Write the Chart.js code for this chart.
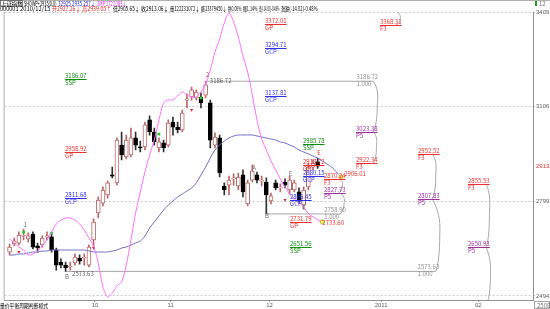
<!doctype html>
<html lang="zh">
<head>
<meta charset="utf-8">
<title>上证指数</title>
<script src="https://cdn.jsdelivr.net/npm/chart.js"></script>
<style>
html,body{margin:0;padding:0;background:#fff;}
canvas{display:block;}
</style>
</head>
<body>
<canvas id="chart-0" width="550" height="309"></canvas>
<script>
// K线 (2010-09 ~ 2010-12-15)
const candleOpen  = [2636,2662,2665,2688,2678,2694,2656,2659,2685,2685,2643,2604,2594,2588,2601,2617,2617,2594,2675,2762,2794,2820,2885,2859,2981,2943,2949,3004,2975,2975,3062,3023,2972,2988,2981,3055,3039,3030,3126,3136,3133,3136,3142,3117,2981,3004,2849,2852,2872,2849,2885,2791,2868,2885,2865,2862,2801,2859,2843,2862,2836,2836,2830,2788,2846,2910,2927.26];
const candleHigh  = [2662,2681,2701,2710,2698,2701,2665,2688,2701,2698,2649,2614,2604,2604,2630,2627,2630,2659,2743,2814,2846,2865,2910,3004,3023,3013,3036,3023,2994,3055,3075,3036,3004,2997,3062,3071,3055,3094,3146,3168,3159,3149,3186.72,3126,3020,3013,2859,2881,2888,2891,2901,2868,2917,2894,2881,2875,2826,2868,2856,2872,2881,2868,2843,2846,2923,2933,2939.05];
const candleLow   = [2627,2656,2659,2675,2668,2646,2636,2652,2675,2636,2578,2585,2573.63,2578,2594,2597,2594,2588,2652,2746,2785,2810,2875,2852,2933,2936,2943,2965,2959,2965,3013,2981,2959,2959,2975,3013,3020,3023,3101,3126,3126,3101,3133,2972,2972,2878,2820,2820,2852,2836,2814,2785,2862,2859,2849,2758.90,2791,2836,2830,2843,2823,2830,2794,2775,2836,2901,2905.65];
const candleClose = [2652,2672,2691,2691,2688,2652,2649,2681,2688,2643,2594,2594,2585,2591,2620,2607,2620,2652,2733,2804,2836,2859,2881,2997,2949,2997,3004,2981,2972,3046,3023,2991,2991,2972,3052,3039,3030,3084,3130,3159,3152,3117,3175,2997,3007,2891,2836,2868,2875,2878,2830,2859,2897,2868,2868,2820,2817,2843,2846,2852,2868,2859,2804,2836,2910,2923,2913.06];

// 均线
const maPink = [2678.1,2665.2,2652.3,2642.6,2626.5,2629.7,2639.4,2655.5,2674.9,2700.7,2726.5,2739.4,2745.9,2745.9,2739.4,2726.5,2707.2,2681.4,2655.5,2600.7,2523.4,2491.0,2503.9,2526.6,2539.5,2594.2,2674.9,2761.9,2829.7,2894.2,2949.0,2997.3,3061.8,3116.6,3126.2,3126.2,3139.1,3152.0,3142.4,3135.9,3135.9,3152.0,3177.8,3222.9,3280.9,3322.9,3374.4,3406.7,3377.7,3329.3,3268.1,3216.5,3142.4,3061.8,3000.5,2965.1,2929.6,2900.6,2871.6,2845.8,2823.2,2807.1,2794.2,2781.3,2760,2750,2740,2733.6];
const maBlue = [2626.5,2626.5,2629.7,2629.7,2633.0,2636.2,2636.2,2639.4,2639.4,2642.6,2642.6,2642.6,2642.6,2642.6,2642.6,2642.6,2642.6,2639.4,2636.2,2636.2,2636.2,2636.2,2639.4,2642.6,2649.1,2652.3,2658.8,2665.2,2671.7,2687.8,2713.6,2732.9,2752.3,2771.6,2787.7,2800.6,2813.5,2823.2,2832.9,2842.6,2858.7,2884.5,2910.3,2939.3,2965.1,2981.2,2994.1,3003.8,3010.2,3013.4,3013.4,3013.4,3013.4,3010.2,3007.0,3003.8,3000.5,2997.3,2990.9,2987.7,2981.2,2974.8,2965.1,2958.6,2952.2,2945.7,2939.3,2929.6,2919.9,2910.3,2894.2,2878.0];

// 坐标
const yTicks = [3409.9, 3106.7, 2913.1, 2799.5, 2494.4];
const lastPriceTick = 2913.1;
const monthTicks = [18.3, 34.5, 55.7, 79.6, 100.4];
const monthLabels = ['10','11','12','2011','02'];

// 高低点水平线 [起点, 终点, 价位]
const levelFrom  = [42, 12, 55];
const levelTo    = [77.9, 91.3, 71.1];
const levelPrice = [3186.72, 2573.63, 2758.90];

// 信号点
const greenDotX = [3, 9, 32, 41];
const greenDotY = [2700.7, 2697.5, 3016.6, 3132.7];
const redMarkX  = [2, 18, 39, 59];
const redMarkY  = [2636.2, 2649.1, 3094.0, 2803.9];

// 标注: [x, 价位, 文字, 代码, 颜色]
const tagList = [
  [54.7, 3372.01, '3372.01', 'GP',  '#f03030'],
  [54.7, 3294.71, '3294.71', 'GCP', '#3030f0'],
  [54.7, 3137.81, '3137.81', 'GCP', '#3030f0'],
  [11.9, 3193.0,  '3186.07', 'SSP', '#109010'],
  [11.9, 2958.92, '2958.92', 'GP',  '#f03030'],
  [11.9, 2811.68, '2811.68', 'GCP', '#3030f0'],
  [62.8, 2985.78, '2985.78', 'SSP', '#109010'],
  [62.8, 2916.0,  '2918.72', 'GP',  '#f03030'],
  [62.8, 2880.15, '2880.15', 'GCP', '#3030f0'],
  [60.0, 2804.0,  '2806.45', 'GCP', '#3030f0'],
  [60.0, 2731.79, '2731.79', 'GP',  '#f03030'],
  [60.0, 2651.56, '2651.56', 'SSP', '#109010'],
  [67.4, 2870.24, '2870.24', 'F3',  '#f03030'],
  [67.4, 2827.73, '2827.73', 'P5',  '#a030a0'],
  [74.3, 3023.38, '3023.38', 'P5',  '#a030a0'],
  [74.3, 2922.34, '2922.34', 'F3',  '#f03030'],
  [79.4, 3368.31, '3368.31', 'F3',  '#f03030'],
  [87.4, 2952.52, '2952.52', 'F3',  '#f03030'],
  [87.4, 2807.83, '2807.83', 'P5',  '#a030a0'],
  [98.3, 2855.53, '2855.53', 'F3',  '#f03030'],
  [98.3, 2650.93, '2650.93', 'P5',  '#a030a0']
];
// 普通文字: [x, 价位, 文字, 颜色]
const noteList = [
  [42.9, 3180.0, '3186.72', '#606060'],
  [74.3, 3194.0, '3186.72', '#909090'],
  [74.3, 3172.0, '1.000',   '#909090'],
  [13.4, 2560.0, '2573.63', '#606060'],
  [87.4, 2580.0, '2573.63', '#909090'],
  [87.4, 2558.0, '1.000',   '#909090'],
  [67.4, 2766.0, '2758.90', '#909090'],
  [67.4, 2744.0, '1.000',   '#909090'],
  [71.7, 2882.0, '2906.01', '#f03030'],
  [67.0, 2724.0, '2733.60', '#f03030'],
  [3, 2716, '1', '#707070'], [52, 2900, 'A', '#707070'], [11.9, 2548, 'B', '#707070'],
  [54.7, 2745, 'B', '#707070'], [62.7, 2772, 'C', '#309030'], [59.8, 2880, 'E', '#707070'],
  [42, 3200, '2', '#c05050'], [65.9, 2950, 'E', '#f03030']
];
// 括号连线: [x, 价位1, 价位2, 终点x偏移, 外凸]
const braceList = [
  [82.8, 3368.31, 3409.9, 0.4, 3],
  [77.9, 3186.72, 3023.38, 0, 5],
  [77.9, 3023.38, 2922.34, 0, 4],
  [70.6, 2870.24, 2827.73, 0, 4],
  [70.6, 2827.73, 2758.90, 0.2, 5],
  [90.6, 2952.52, 2807.83, 0, 4],
  [90.6, 2807.83, 2573.63, 0.7, 5],
  [102.1, 2855.53, 2650.93, 0, 4],
  [102.1, 2650.93, 2481.5, 0.4, 3]
];

const upColor = '#b86868';
const fontSmall = '6px "Liberation Sans Narrow", "Noto Sans CJK SC", sans-serif';

const wickData = candleOpen.map((o,i)=>({x:i, y:[candleLow[i], candleHigh[i]]}));
const bodyData = candleOpen.map((o,i)=>({x:i, y:[o, candleClose[i]]}));
const isUp = i => candleClose[i] >= candleOpen[i];

// 在给定宽度内写字, 超宽时横向压缩
function fitText(ctx, t, x0, yb, maxW){
  const w = ctx.measureText(t).width;
  const sx = maxW && w > maxW ? maxW / w : 1;
  ctx.save(); ctx.translate(x0, yb); ctx.scale(sx, 1); ctx.fillText(t, 0, 0); ctx.restore();
}

const overlay = {
  id: 'overlay',
  afterDatasetsDraw(chart){
    const {ctx, chartArea, scales:{x, y}} = chart;
    ctx.save();
    ctx.font = fontSmall;
    // 括号
    ctx.strokeStyle = '#a8a8a8'; ctx.lineWidth = 1;
    braceList.forEach(([bx, p1, p2, dx, bulge])=>{
      const x1 = x.getPixelForValue(bx), x2 = x.getPixelForValue(bx+dx);
      const y1 = y.getPixelForValue(p1), y2 = Math.min(y.getPixelForValue(p2), chartArea.bottom);
      const h = y2 - y1;
      ctx.beginPath();
      ctx.moveTo(x1, y1);
      ctx.bezierCurveTo(x1+bulge, y1+h*0.15, x2+bulge, y1+h*0.25, x2+bulge*0.8, y1+h*0.5);
      ctx.bezierCurveTo(x2+bulge*0.8, y1+h*0.75, x2+bulge*0.5, y1+h*0.9, x2, y2);
      ctx.stroke();
    });
    // 标注
    ctx.textBaseline = 'alphabetic';
    tagList.forEach(([tx, p, t, code, col])=>{
      const px = Math.round(x.getPixelForValue(tx)), py = Math.round(y.getPixelForValue(p));
      ctx.fillStyle = col;
      ctx.fillText(t, px, py-1);
      const w = ctx.measureText(t).width;
      ctx.fillRect(px, py, w, 1);
      ctx.fillText(code, px, py+6);
    });
    noteList.forEach(([tx, p, t, col])=>{
      ctx.fillStyle = col;
      ctx.fillText(t, x.getPixelForValue(tx), y.getPixelForValue(p));
    });
    ctx.restore();
  },
  afterDraw(chart){
    const {ctx, chartArea} = chart;
    ctx.save();
    ctx.font = fontSmall;
    ctx.textBaseline = 'alphabetic';
    // 边框
    ctx.fillStyle = '#b0b0b0';
    ctx.fillRect(0, 0, 550, 1);
    ctx.fillRect(chartArea.left-1, chartArea.top, 1, chartArea.bottom-chartArea.top);
    // 标题行
    const line1 = [['上证指数',1,'#000'],['SHOWP+2935(0,0)',24,'#000'],['32925 2935 257↓',58,'#2020e0'],['3MP 2723 383↓',97,'#e020e0'],['',128,'#000']];
    const line2 = [['000001',0,'#000'],['2010/12/15',20,'#000'],['开2927.26↓',52,'#e02020'],['高2939.05↑',82,'#e02020'],['低2905.65↓',113,'#000'],['收2913.06↓',141,'#000'],['量122231072↓',170,'#000'],['额13379450↓',201,'#000'],['换0.00%',228,'#000'],['振1.14%',243,'#000'],['涨(-14.02)-0.48%',259,'#000'],['涨跌(-14.02)-0.48%',281,'#000'],['',319,'#000']];
    for (let k = 0; k < line1.length-1; k++){ const [t,x0,c] = line1[k]; ctx.fillStyle=c; fitText(ctx, t, x0, 5.5, line1[k+1][1]-x0-1.5); }
    ctx.strokeStyle = '#606060'; ctx.lineWidth = 0.8; ctx.strokeRect(0.5, 0.5, 22, 5.5);
    for (let k = 0; k < line2.length-1; k++){ const [t,x0,c] = line2[k]; ctx.fillStyle=c; fitText(ctx, t, x0, 10.5, line2[k+1][1]-x0-1.5); }
    // 底部
    ctx.fillStyle = '#000';
    fitText(ctx, '量价平衡周期判断模式', 0, 307.5, 48);
    ctx.fillStyle = '#707070';
    ctx.strokeStyle = '#909090';
    ctx.strokeRect(534.5, 301.5, 15, 7);
    ctx.fillText('2508', 537, 307.5);
    ctx.fillStyle = '#20a020';
    ctx.fillRect(535, 1, 2, 5);
    ctx.fillStyle = '#707070';
    ctx.fillText('12', 539, 6);
    ctx.restore();
  }
};

new Chart(document.getElementById('chart-0'), {
  data: {
    datasets: [
      { type:'line', label:'MA1', data: maPink.map((v,i)=>({x:i,y:v})), borderColor:'#ff70ff', borderWidth:1, order:0,
        pointRadius: ctx => ctx.dataIndex === maPink.length-1 ? 2 : 0, pointBackgroundColor:'#ffff40', pointBorderColor:'#909020', pointBorderWidth:0.6, tension:0.3 },
      { type:'line', label:'MA2', data: maBlue.map((v,i)=>({x:i,y:v})), borderColor:'#7070c8', borderWidth:1, order:0,
        pointRadius: ctx => ctx.dataIndex === maBlue.length-1 ? 2 : 0, pointBackgroundColor:'#ffff40', pointBorderColor:'#909020', pointBorderWidth:0.6, tension:0.3 },
      ...levelPrice.map((p,k)=>({ type:'line', label:'L'+k, data:[{x:levelFrom[k],y:p},{x:levelTo[k],y:p}], borderColor:'#a8a8a8', borderWidth:1, pointRadius:0, order:3 })),
      { type:'scatter', label:'G', data: greenDotX.map((v,i)=>({x:v,y:greenDotY[i]})), pointRadius:1.6, pointBackgroundColor:'#20d020', pointBorderWidth:0, order:0 },
      { type:'scatter', label:'R', data: redMarkX.map((v,i)=>({x:v,y:redMarkY[i]})), pointStyle:'triangle', rotation:180, pointRadius:1.8, pointBackgroundColor:'#e02020', pointBorderWidth:0, order:0 },
      { type:'bar', label:'body', data: bodyData, grouped:false, barThickness:4, borderSkipped:false, borderWidth:1, order:1,
        backgroundColor: c => isUp(c.dataIndex) ? '#ffffff' : '#000000',
        borderColor: c => isUp(c.dataIndex) ? upColor : '#000000' },
      { type:'bar', label:'wick', data: wickData, grouped:false, barThickness:1, borderWidth:0, order:2,
        backgroundColor: c => isUp(c.dataIndex) ? upColor : '#303030' }
    ]
  },
  options: {
    responsive:false, animation:false, devicePixelRatio:1,
    layout:{ padding:{ top:12, left:1, right:0, bottom:0 } },
    plugins:{ legend:{display:false}, tooltip:{enabled:false} },
    scales:{
      x:{ type:'linear', position:'bottom', min:-1.064, max:112.13, offset:false,
        afterFit: s => { s.height = 9; },
        afterBuildTicks: s => { s.ticks = monthTicks.map(v=>({value:v})); },
        ticks:{ callback:(v,i)=>monthLabels[i], font:{size:6, family:'"Liberation Sans Narrow", sans-serif'}, color:'#606060', padding:0, maxRotation:0, autoSkip:false },
        grid:{ drawOnChartArea:false, tickLength:2, color:'#909090', offset:false },
        border:{ color:'#909090' } },
      y:{ type:'linear', position:'right', min:2481.5, max:3409.9,
        afterFit: s => { s.width = 17; },
        afterBuildTicks: s => { s.ticks = yTicks.map(v=>({value:v})); },
        ticks:{ callback: v => v.toFixed(1), font:{size:6, family:'"Liberation Sans Narrow", sans-serif'}, padding:1,
          color: c => c.tick && c.tick.value === lastPriceTick ? '#f03030' : '#606060' },
        grid:{ color: c => c.tick && c.tick.value === lastPriceTick ? 'rgba(0,0,0,0)' : '#c8c8c8', tickLength:2 },
        border:{ color:'#909090', dash:[2,2] } }
    }
  },
  plugins:[overlay]
});
</script>
</body>
</html>
